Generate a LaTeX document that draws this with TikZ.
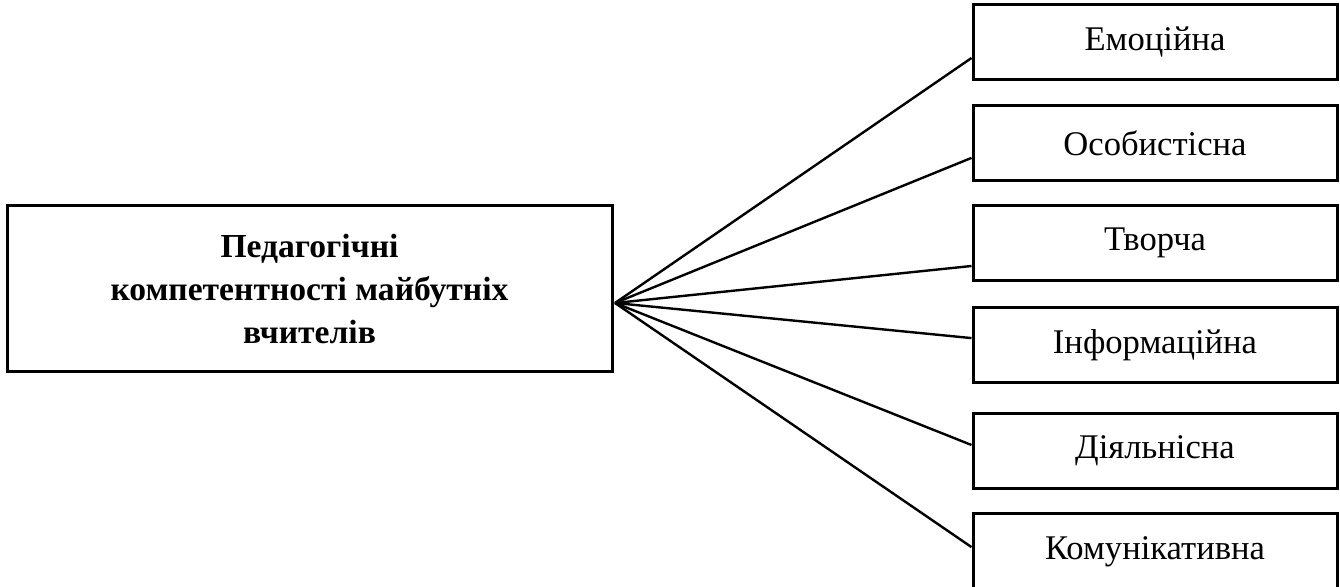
\documentclass[tikz,border=0pt]{standalone}
\usepackage{fontspec}
\setmainfont{Liberation Serif}
\tikzset{
  kbox/.style={draw, line width=1.5pt, minimum width=182pt, minimum height=37.5pt,
    inner sep=0pt, font=\fontsize{17.3}{20}\selectfont},
  mainbox/.style={draw, line width=1.5pt, minimum width=302.5pt, minimum height=83pt,
    align=center, font=\fontsize{16.8}{21.5}\selectfont\bfseries},
  link/.style={line width=1.2pt}
}
\begin{document}
\begin{tikzpicture}[x=0.5pt,y=-0.5pt]
    \useasboundingbox (0,0) rectangle (1340,587);

    % main box
    \node[mainbox] (ped) at (309.5,289) {Педагогічні\\компетентності майбутніх\\вчителів};
    \coordinate (hub) at (615,303);

    % competences
    \node[kbox] (emo) at (1155,42) {Емоційна};
    \node[kbox] (osob) at (1155,143.5) {Особистісна};
    \node[kbox] (tvor) at (1155,243) {Творча};
    \node[kbox] (inf) at (1155,345.5) {Інформаційна};
    \node[kbox] (diyal) at (1155,451) {Діяльнісна};
    \node[kbox] (komun) at (1155,551.5) {Комунікативна};

    \draw[link] (hub) -- ([yshift=-8pt]emo.west);
    \draw[link] (hub) -- ([yshift=-7.2pt]osob.west);
    \draw[link] (hub) -- ([yshift=-11.5pt]tvor.west);
    \draw[link] (hub) -- ([yshift=3.7pt]inf.west);
    \draw[link] (hub) -- ([yshift=3pt]diyal.west);
    \draw[link] (hub) -- ([yshift=2.2pt]komun.west);

\end{tikzpicture}
\end{document}
